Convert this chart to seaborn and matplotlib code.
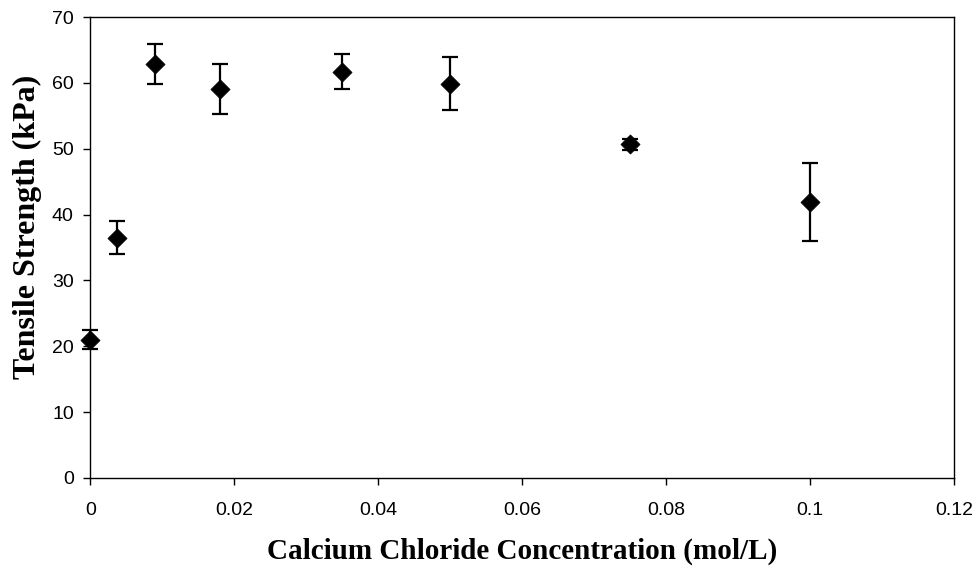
import numpy as np
import pandas as pd
import matplotlib
matplotlib.use("Agg")
import matplotlib.pyplot as plt
import seaborn as sns

# data
concentration = [0.0, 0.0037, 0.009, 0.018, 0.035, 0.05, 0.075, 0.1]
strength = [21.0, 36.5, 62.9, 59.0, 61.7, 59.9, 50.7, 41.9]
error = [1.4, 2.5, 3.0, 3.8, 2.7, 4.0, 0.85, 5.9]

df = pd.DataFrame({"conc": concentration, "ts": strength, "err": error})

sns.set_style("ticks")
plt.rcParams["font.family"] = ["Liberation Sans", "DejaVu Sans"]
plt.rcParams["text.color"] = "black"
plt.rcParams["axes.labelcolor"] = "black"

fig = plt.figure(figsize=(9.77, 5.73), dpi=100)
ax = fig.add_axes([0.0926, 0.1658, 0.884, 0.8045])

# error bars first, then the diamond markers on top
ax.errorbar(df["conc"], df["ts"], yerr=df["err"], fmt="none",
            ecolor="black", elinewidth=1.6, capsize=5.8, capthick=1.6,
            zorder=2, clip_on=False)
sns.scatterplot(data=df, x="conc", y="ts", marker="D", s=95, color="black",
                edgecolor="black", linewidth=0.5, ax=ax, zorder=3,
                legend=False, clip_on=False)

ax.set_xlim(0, 0.12)
ax.set_ylim(0, 70)
ax.set_xticks(np.arange(0, 0.121, 0.02))
ax.set_xticklabels(["0", "0.02", "0.04", "0.06", "0.08", "0.1", "0.12"])
ax.set_yticks(range(0, 71, 10))

for side in ["top", "right", "left", "bottom"]:
    ax.spines[side].set_visible(True)
    ax.spines[side].set_color("black")
    ax.spines[side].set_linewidth(1.0)

ax.tick_params(axis="both", direction="out", length=5, width=1, colors="black",
               labelsize=14)
ax.tick_params(axis="y", pad=7)
ax.tick_params(axis="x", pad=12)

ax.set_xlabel("Calcium Chloride Concentration (mol/L)", fontsize=21,
              fontweight="bold", family="Liberation Serif", labelpad=14)
ax.set_ylabel("Tensile Strength (kPa)", fontsize=23, fontweight="bold",
              family="Liberation Serif")
ax.yaxis.set_label_coords(-0.056, 0.545)

fig.savefig("out.png", dpi=100, facecolor="white")
